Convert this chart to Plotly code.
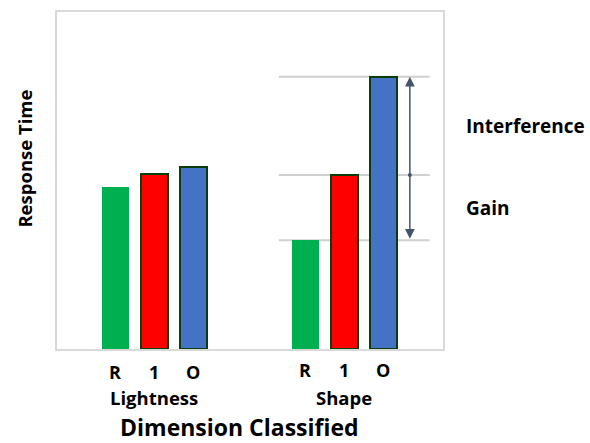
import plotly.graph_objects as go

# Response-time data for each classified dimension
groups = ["Lightness", "Shape"]
conditions = ["R", "1", "O"]
lightness_rt = [48.1, 51.9, 53.9]
shape_rt = [32.3, 51.6, 80.8]
bar_colors = ["#00b050", "#ff0000", "#4472c4"]
outline_colors = ["rgba(0,0,0,0)", "#0b3d0b", "#0b3d0b"]

group_offset = 4.87
FONT = "Open Sans"

fig = go.Figure()

series = [lightness_rt, shape_rt]
for g, (name, vals) in enumerate(zip(groups, series)):
    xs = [g * group_offset + i for i in range(len(conditions))]
    fig.add_trace(go.Bar(
        x=xs, y=vals, width=0.69,
        marker=dict(color=bar_colors,
                    line=dict(color=outline_colors, width=2)),
        showlegend=False, hoverinfo="skip",
    ))
    # condition labels under each bar
    for x, c in zip(xs, conditions):
        fig.add_annotation(x=x, y=0, xref="x", yref="paper", text=f"<b>{c}</b>",
                           showarrow=False, yanchor="middle",
                           yshift=-23 if g == 0 else -21,
                           font=dict(family=FONT, size=18, color="#000"))
    # group label
    fig.add_annotation(x=xs[1], y=0, xref="x", yref="paper", text=f"<b>{name}</b>",
                       showarrow=False, yanchor="middle", yshift=-48.5,
                       font=dict(family=FONT, size=18.5, color="#000"))

# reference lines at the Shape bar heights
line_x0, line_x1 = 4.19, 8.06
for v in shape_rt:
    fig.add_shape(type="line", xref="x", yref="y", x0=line_x0, x1=line_x1,
                  y0=v, y1=v, line=dict(color="#d0d0d0", width=2), layer="below")

# double-headed arrow spanning gain + interference
arrow_x = 7.55
lo, mid, hi = shape_rt[0], shape_rt[1], shape_rt[2]
fig.add_annotation(x=arrow_x, y=hi, ax=arrow_x, ay=lo, xref="x", yref="y",
                   axref="x", ayref="y", text="", showarrow=True,
                   arrowhead=2, startarrowhead=2, arrowside="end+start",
                   arrowsize=1.3, startarrowsize=1.3, arrowwidth=1.5,
                   arrowcolor="#44546a")
fig.add_trace(go.Scatter(x=[arrow_x], y=[mid], mode="markers",
                         marker=dict(size=4, color="#44546a"),
                         showlegend=False, hoverinfo="skip"))

# side labels
fig.add_annotation(x=1, y=(hi + mid) / 2, xref="paper", yref="y",
                   text="<b>Interference</b>", showarrow=False,
                   xanchor="left", xshift=21,
                   font=dict(family=FONT, size=19, color="#000"))
fig.add_annotation(x=1, y=(mid + lo) / 2, xref="paper", yref="y",
                   text="<b>Gain</b>", showarrow=False,
                   xanchor="left", xshift=21,
                   font=dict(family=FONT, size=19, color="#000"))

# axis titles
fig.add_annotation(x=0.474, y=0, xref="paper", yref="paper",
                   text="<b>Dimension Classified</b>", showarrow=False,
                   yanchor="middle", yshift=-78,
                   font=dict(family=FONT, size=23, color="#000"))
fig.add_annotation(x=0, y=0.565, xref="paper", yref="paper",
                   text="<b>Response Time</b>", showarrow=False,
                   textangle=-90, xanchor="center", xshift=-32,
                   font=dict(family=FONT, size=18.5, color="#000"))

fig.update_xaxes(range=[-1.5, 8.4], showticklabels=False, showgrid=False,
                 zeroline=False, showline=True, mirror=True,
                 linecolor="#d9d9d9", linewidth=2)
fig.update_yaxes(range=[0, 100], showticklabels=False, showgrid=False,
                 zeroline=False, showline=True, mirror=True,
                 linecolor="#d9d9d9", linewidth=2)

fig.update_layout(width=590, height=443, margin=dict(l=57, r=147, t=10, b=94),
                  plot_bgcolor="white", paper_bgcolor="white", bargap=0)

fig.write_html("out.html")
